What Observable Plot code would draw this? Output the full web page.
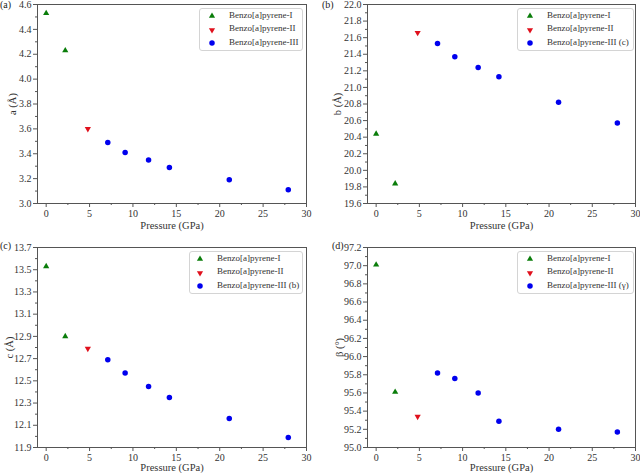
<!DOCTYPE html>
<html>
<head>
<meta charset="utf-8">
<script src="https://cdn.jsdelivr.net/npm/d3@7"></script>
<script src="https://cdn.jsdelivr.net/npm/@observablehq/plot@0.6"></script>
<style>
  body { margin: 0; background: #fff; }
  #root { position: relative; width: 640px; height: 473px; font-family: "Liberation Serif", "DejaVu Serif", serif; }
  #root svg, #root svg text { font-family: "Liberation Serif", serif !important; }
  .panel { position: absolute; }
  .plabel { position: absolute; font-size: 10px; color: #222; }
  .legend { position: absolute; border: 1px solid #d4d4d4; border-radius: 3px; background: #fff; font-size: 9px; color: #333; }
  .legend .row { position: absolute; white-space: nowrap; }
  .legend svg { position: absolute; overflow: visible; }
</style>
</head>
<body>
<div id="root"></div>
<script>
// ---- data ----
const seriesNames = ["Benzo[a]pyrene-I", "Benzo[a]pyrene-II", "Benzo[a]pyrene-III"];
const pressureI = [0, 2.2];
const pressureII = [4.8];
const pressureIII = [7.1, 9.1, 11.8, 14.2, 21.1, 27.9];

const aI = [4.53, 4.23];
const aII = [3.60];
const aIII = [3.49, 3.41, 3.35, 3.29, 3.19, 3.11];

const bI = [20.44, 19.84];
const bII = [21.66];
const bIII = [21.53, 21.37, 21.24, 21.13, 20.82, 20.57];

const cI = [13.53, 12.90];
const cII = [12.79];
const cIII = [12.69, 12.57, 12.45, 12.35, 12.16, 11.99];

const betaI = [97.01, 95.61];
const betaII = [95.34];
const betaIII = [95.82, 95.76, 95.60, 95.29, 95.20, 95.17];

const xTicks = [0, 5, 10, 15, 20, 25, 30];
const xMinorTicks = [2.5, 7.5, 12.5, 17.5, 22.5, 27.5];

const colors = ["#0a7d0a", "#e0101c", "#0000ee"];

// triangle pointing down
const triangleDown = {
  draw(context, size) {
    const y = -Math.sqrt(size / (3 * Math.sqrt(3)));
    context.moveTo(0, -y * 2);
    context.lineTo(-Math.sqrt(3) * y, y);
    context.lineTo(Math.sqrt(3) * y, y);
    context.closePath();
  }
};
const symbols = ["triangle", triangleDown, "circle"];
const d3symbols = [d3.symbolTriangle, triangleDown, d3.symbolCircle];
const radii = [2.3, 2.3, 2.75];

function ticksRange(lo, hi, step) {
  const n = Math.round((hi - lo) / step);
  return d3.range(n + 1).map(i => +(lo + i * step).toFixed(3));
}

function makeRows(I, II, III) {
  const rows = [];
  pressureI.forEach((p, i) => rows.push({p, v: I[i], s: 0}));
  pressureII.forEach((p, i) => rows.push({p, v: II[i], s: 1}));
  pressureIII.forEach((p, i) => rows.push({p, v: III[i], s: 2}));
  return rows;
}

const panels = [
  {id: "(a)", ylab: "a (Å)", rows: makeRows(aI, aII, aIII), y: [3.0, 4.6], step: 0.2,
   left: 0, top: 0, w: 320, h: 236, ml: 37, mr: 14, mt: 4, mb: 33, yoff: 29, xoff: 25,
   leg: {x: 199, y: 8, w: 102, h: 41, sx: 12, tx: 29}, names: ["Benzo[a]pyrene-I", "Benzo[a]pyrene-II", "Benzo[a]pyrene-III"],
   lab: {x: 0, y: -1}},
  {id: "(b)", ylab: "b (Å)", rows: makeRows(bI, bII, bIII), y: [19.6, 22.0], step: 0.2,
   left: 320, top: 0, w: 320, h: 236, ml: 47, mr: 5, mt: 4, mb: 33, yoff: 34, xoff: 25,
   leg: {x: 517, y: 8, w: 115, h: 41, sx: 12, tx: 29}, names: ["Benzo[a]pyrene-I", "Benzo[a]pyrene-II", "Benzo[a]pyrene-III (c)"],
   lab: {x: 322, y: -1}},
  {id: "(c)", ylab: "c (Å)", rows: makeRows(cI, cII, cIII), y: [11.9, 13.7], step: 0.2,
   left: 0, top: 236, w: 320, h: 237, ml: 37, mr: 14, mt: 11, mb: 26, yoff: 32, xoff: 23,
   leg: {x: 189, y: 251, w: 112, h: 41, sx: 10, tx: 27}, names: ["Benzo[a]pyrene-I", "Benzo[a]pyrene-II", "Benzo[a]pyrene-III (b)"],
   lab: {x: 0, y: 240}},
  {id: "(d)", ylab: "β (°)", rows: makeRows(betaI, betaII, betaIII), y: [95.0, 97.2], step: 0.2,
   left: 320, top: 236, w: 320, h: 237, ml: 47, mr: 5, mt: 11, mb: 26, yoff: 32, xoff: 23,
   leg: {x: 517, y: 251, w: 115, h: 41, sx: 12, tx: 29}, names: ["Benzo[a]pyrene-I", "Benzo[a]pyrene-II", "Benzo[a]pyrene-III (γ)"],
   lab: {x: 332, y: 240}}
];

const root = document.getElementById("root");
const FF = "Liberation Serif";

for (const P of panels) {
  const major = ticksRange(P.y[0], P.y[1], P.step);
  const minor = ticksRange(P.y[0] + P.step / 2, P.y[1] - P.step / 2, P.step);
  const plot = Plot.plot({
    width: P.w, height: P.h,
    marginLeft: P.ml, marginRight: P.mr, marginTop: P.mt, marginBottom: P.mb,
    style: {fontFamily: FF, fontSize: "10px", color: "#333", background: "transparent"},
    x: {domain: [-1, 30]},
    y: {domain: P.y},
    marks: [
      Plot.axisX({ticks: xTicks, tickSize: 4, tickPadding: 2, tickFormat: d => d, fontSize: 10, fontFamily: FF,
        label: "Pressure (GPa)", labelAnchor: "center", labelArrow: "none", labelOffset: P.xoff, stroke: "#555"}),
      Plot.axisX({ticks: xMinorTicks, tickSize: 2, text: null, label: null, stroke: "#555"}),
      Plot.axisY({ticks: major, tickSize: 4, tickPadding: 2, tickFormat: d3.format(".1f"), fontSize: 10, fontFamily: FF,
        label: P.ylab, labelAnchor: "center", labelArrow: "none", labelOffset: P.yoff, stroke: "#555"}),
      Plot.axisY({ticks: minor, tickSize: 2, text: null, label: null, stroke: "#555"}),
      Plot.frame({stroke: "#555", strokeWidth: 1}),
      ...[0, 1, 2].map(s => Plot.dot(P.rows.filter(d => d.s === s), {x: "p", y: "v", fill: colors[s], stroke: "none",
        symbol: symbols[s], r: radii[s]}))
    ]
  });
  plot.setAttribute("font-family", FF);
  plot.querySelectorAll("[aria-label='y-axis label'], [aria-label='x-axis label']").forEach(g => g.setAttribute("font-size", "10.5"));
  const div = document.createElement("div");
  div.className = "panel";
  div.style.left = P.left + "px";
  div.style.top = P.top + "px";
  div.appendChild(plot);
  root.appendChild(div);

  const lab = document.createElement("div");
  lab.className = "plabel";
  lab.textContent = P.id;
  lab.style.left = P.lab.x + "px";
  lab.style.top = P.lab.y + "px";
  root.appendChild(lab);

  const leg = document.createElement("div");
  leg.className = "legend";
  leg.style.left = P.leg.x + "px";
  leg.style.top = P.leg.y + "px";
  leg.style.width = P.leg.w + "px";
  leg.style.height = P.leg.h + "px";
  P.names.forEach((name, i) => {
    const cy = 7 + i * 13.5;
    const sym = d3.create("svg").attr("width", 8).attr("height", 8)
      .style("left", (P.leg.sx - 4) + "px").style("top", (cy - 4) + "px");
    sym.append("path").attr("transform", "translate(4,4)")
      .attr("d", d3.symbol(d3symbols[i], Math.PI * radii[i] * radii[i])()).attr("fill", colors[i]);
    leg.appendChild(sym.node());
    const row = document.createElement("div");
    row.className = "row";
    row.textContent = name;
    row.style.left = P.leg.tx + "px";
    row.style.top = (cy - 6.5) + "px";
    leg.appendChild(row);
  });
  root.appendChild(leg);
}
</script>
</body>
</html>
